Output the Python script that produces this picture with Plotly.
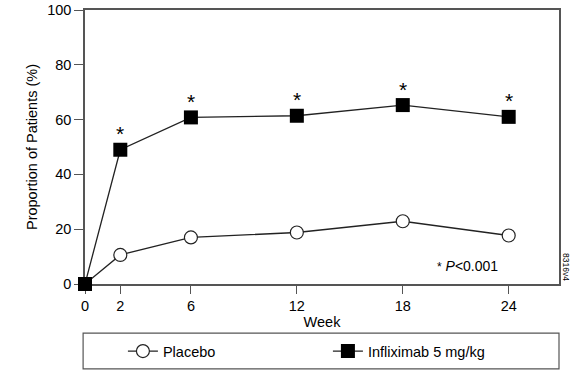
import plotly.graph_objects as go

weeks = [0, 2, 6, 12, 18, 24]
placebo = [0, 10.6, 17.0, 18.8, 22.9, 17.7]
infliximab = [0, 49.0, 60.8, 61.4, 65.3, 61.0]
signif_weeks = [2, 6, 12, 18, 24]
x_ticks = [0, 2, 6, 12, 18, 24]
y_ticks = [0, 20, 40, 60, 80, 100]

FONT = "Liberation Sans, Arial, sans-serif"
LINE = "#222222"
AX = "#555555"
FS = 14.5

fig = go.Figure()
fig.add_trace(go.Scatter(
    x=weeks, y=placebo, name="Placebo", mode="lines+markers",
    line=dict(color=LINE, width=1.3),
    marker=dict(symbol="circle", size=13, color="white", line=dict(color=LINE, width=1.2)),
    cliponaxis=False,
))
fig.add_trace(go.Scatter(
    x=weeks, y=infliximab, name="Infliximab 5 mg/kg", mode="lines+markers",
    line=dict(color=LINE, width=1.3),
    marker=dict(symbol="square", size=14, color="black", line=dict(color="black", width=0)),
    cliponaxis=False,
))

for w in signif_weeks:
    yv = infliximab[weeks.index(w)]
    fig.add_annotation(x=w, y=yv, text="*", showarrow=False, yshift=16,
                       font=dict(size=21, color="black", family=FONT))

fig.add_annotation(xref="x", yref="y", x=23.5, y=6.6,
                   text="<span style='font-size:12px'>*</span> <i>P</i>&lt;0.001",
                   showarrow=False, xanchor="right", font=dict(size=14, color="black", family=FONT))
fig.add_annotation(xref="paper", yref="paper", x=1.0, y=0.0, xshift=7, yshift=1,
                   text="8316v4", textangle=90, showarrow=False, xanchor="center", yanchor="bottom",
                   font=dict(size=8.5, color="black", family=FONT))

# legend frame
fig.add_shape(type="rect", xref="paper", yref="paper",
              x0=-0.004, x1=1.0, y0=-0.310, y1=-0.179,
              line=dict(color=AX, width=1.2), fillcolor="rgba(0,0,0,0)")

fig.update_layout(
    width=586, height=377,
    margin=dict(l=85, r=27, t=10, b=93, autoexpand=False),
    paper_bgcolor="white", plot_bgcolor="white",
    font=dict(family=FONT, size=FS, color="black"),
    showlegend=True,
    legend=dict(orientation="h", x=0.080, y=-0.245, xanchor="left", yanchor="middle",
                bgcolor="rgba(0,0,0,0)", borderwidth=0, entrywidth=160,
                font=dict(size=FS, family=FONT, color="black")),
    xaxis=dict(range=[0, 26.85], tickvals=x_ticks, ticktext=[str(t) for t in x_ticks],
               showgrid=False, zeroline=False, showline=True, linecolor=AX, linewidth=1.5,
               mirror=True, ticks="outside", ticklen=8, tickcolor=AX, tickwidth=1.2,
               automargin=False, layer="below traces",
               title=dict(text="Week", standoff=0, font=dict(size=FS, family=FONT))),
    yaxis=dict(range=[0, 100], tickvals=y_ticks, showgrid=False, zeroline=False,
               showline=True, linecolor=AX, linewidth=1.5, mirror=True,
               ticks="outside", ticklen=9, tickcolor=AX, tickwidth=1.2,
               automargin=False, layer="below traces",
               title=dict(text="Proportion of Patients (%)", standoff=6, font=dict(size=FS, family=FONT))),
)

fig.write_html("out.html", config={"displayModeBar": False},
               post_script="document.body.style.margin='0';document.documentElement.style.overflow='hidden';")
